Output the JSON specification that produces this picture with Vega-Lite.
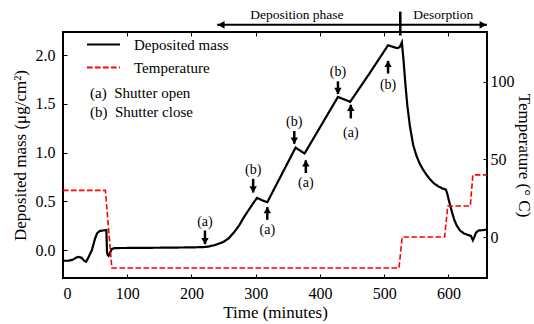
{
  "$schema": "https://vega.github.io/schema/vega-lite/v6.json",
  "width": 424,
  "height": 246,
  "autosize": {"type": "none"},
  "padding": {"left": 63, "top": 32, "right": 47, "bottom": 46},
  "config": {
    "font": "Liberation Serif, Times New Roman, serif",
    "view": {"stroke": "black", "strokeWidth": 2},
    "axis": {
      "grid": false,
      "domain": false,
      "tickColor": "black",
      "tickSize": -4,
      "tickWidth": 1,
      "labelColor": "black",
      "titleColor": "black",
      "labelFont": "Liberation Serif, Times New Roman, serif",
      "titleFont": "Liberation Serif, Times New Roman, serif",
      "labelFontSize": 16,
      "titleFontSize": 17,
      "titleFontWeight": "normal"
    },
    "legend": {
      "orient": "none",
      "legendX": 33,
      "legendY": 5,
      "padding": 0,
      "symbolStrokeWidth": 2,
      "labelFont": "Liberation Serif, Times New Roman, serif",
      "labelFontSize": 15,
      "labelColor": "black",
      "rowPadding": 7
    },
    "text": {"font": "Liberation Serif, Times New Roman, serif", "color": "black"}
  },
  "datasets": {
    "mass": [
      {"t": 0, "mass": -0.11, "series": "Deposited mass"},
      {"t": 8, "mass": -0.11, "series": "Deposited mass"},
      {"t": 15, "mass": -0.10, "series": "Deposited mass"},
      {"t": 20, "mass": -0.08, "series": "Deposited mass"},
      {"t": 24, "mass": -0.07, "series": "Deposited mass"},
      {"t": 29, "mass": -0.08, "series": "Deposited mass"},
      {"t": 33, "mass": -0.11, "series": "Deposited mass"},
      {"t": 36, "mass": -0.12, "series": "Deposited mass"},
      {"t": 40, "mass": -0.07, "series": "Deposited mass"},
      {"t": 45, "mass": 0.0, "series": "Deposited mass"},
      {"t": 50, "mass": 0.12, "series": "Deposited mass"},
      {"t": 53, "mass": 0.17, "series": "Deposited mass"},
      {"t": 57, "mass": 0.195, "series": "Deposited mass"},
      {"t": 62, "mass": 0.2, "series": "Deposited mass"},
      {"t": 67.5, "mass": 0.205, "series": "Deposited mass"},
      {"t": 68.5, "mass": -0.02, "series": "Deposited mass"},
      {"t": 69.5, "mass": -0.05, "series": "Deposited mass"},
      {"t": 71, "mass": -0.06, "series": "Deposited mass"},
      {"t": 73, "mass": -0.03, "series": "Deposited mass"},
      {"t": 76, "mass": 0.01, "series": "Deposited mass"},
      {"t": 80, "mass": 0.02, "series": "Deposited mass"},
      {"t": 120, "mass": 0.022, "series": "Deposited mass"},
      {"t": 160, "mass": 0.024, "series": "Deposited mass"},
      {"t": 200, "mass": 0.027, "series": "Deposited mass"},
      {"t": 218, "mass": 0.03, "series": "Deposited mass"},
      {"t": 226, "mass": 0.035, "series": "Deposited mass"},
      {"t": 236, "mass": 0.05, "series": "Deposited mass"},
      {"t": 249, "mass": 0.08, "series": "Deposited mass"},
      {"t": 258, "mass": 0.12, "series": "Deposited mass"},
      {"t": 266, "mass": 0.18, "series": "Deposited mass"},
      {"t": 274, "mass": 0.25, "series": "Deposited mass"},
      {"t": 281, "mass": 0.33, "series": "Deposited mass"},
      {"t": 288, "mass": 0.40, "series": "Deposited mass"},
      {"t": 295, "mass": 0.47, "series": "Deposited mass"},
      {"t": 302, "mass": 0.535, "series": "Deposited mass"},
      {"t": 310, "mass": 0.51, "series": "Deposited mass"},
      {"t": 318, "mass": 0.49, "series": "Deposited mass"},
      {"t": 340, "mass": 0.77, "series": "Deposited mass"},
      {"t": 362, "mass": 1.05, "series": "Deposited mass"},
      {"t": 376, "mass": 0.99, "series": "Deposited mass"},
      {"t": 402, "mass": 1.28, "series": "Deposited mass"},
      {"t": 428, "mass": 1.57, "series": "Deposited mass"},
      {"t": 447, "mass": 1.52, "series": "Deposited mass"},
      {"t": 477, "mass": 1.81, "series": "Deposited mass"},
      {"t": 506, "mass": 2.10, "series": "Deposited mass"},
      {"t": 520, "mass": 2.07, "series": "Deposited mass"},
      {"t": 524, "mass": 2.08, "series": "Deposited mass"},
      {"t": 527.5, "mass": 2.13, "series": "Deposited mass"},
      {"t": 530, "mass": 1.95, "series": "Deposited mass"},
      {"t": 533, "mass": 1.70, "series": "Deposited mass"},
      {"t": 536, "mass": 1.48, "series": "Deposited mass"},
      {"t": 540, "mass": 1.27, "series": "Deposited mass"},
      {"t": 545, "mass": 1.08, "series": "Deposited mass"},
      {"t": 550, "mass": 0.97, "series": "Deposited mass"},
      {"t": 555, "mass": 0.89, "series": "Deposited mass"},
      {"t": 560, "mass": 0.83, "series": "Deposited mass"},
      {"t": 566, "mass": 0.77, "series": "Deposited mass"},
      {"t": 572, "mass": 0.72, "series": "Deposited mass"},
      {"t": 578, "mass": 0.68, "series": "Deposited mass"},
      {"t": 585, "mass": 0.65, "series": "Deposited mass"},
      {"t": 591, "mass": 0.63, "series": "Deposited mass"},
      {"t": 596, "mass": 0.62, "series": "Deposited mass"},
      {"t": 598, "mass": 0.58, "series": "Deposited mass"},
      {"t": 601, "mass": 0.50, "series": "Deposited mass"},
      {"t": 605, "mass": 0.40, "series": "Deposited mass"},
      {"t": 609, "mass": 0.31, "series": "Deposited mass"},
      {"t": 613, "mass": 0.25, "series": "Deposited mass"},
      {"t": 618, "mass": 0.20, "series": "Deposited mass"},
      {"t": 624, "mass": 0.17, "series": "Deposited mass"},
      {"t": 630, "mass": 0.155, "series": "Deposited mass"},
      {"t": 635, "mass": 0.145, "series": "Deposited mass"},
      {"t": 638, "mass": 0.10, "series": "Deposited mass"},
      {"t": 640, "mass": 0.13, "series": "Deposited mass"},
      {"t": 643, "mass": 0.18, "series": "Deposited mass"},
      {"t": 647, "mass": 0.20, "series": "Deposited mass"},
      {"t": 655, "mass": 0.205, "series": "Deposited mass"},
      {"t": 660, "mass": 0.21, "series": "Deposited mass"}
    ],
    "temp": [
      {"t": 0, "temp": 30, "series": "Temperature"},
      {"t": 66, "temp": 30, "series": "Temperature"},
      {"t": 76, "temp": -20, "series": "Temperature"},
      {"t": 523, "temp": -20, "series": "Temperature"},
      {"t": 528, "temp": 0, "series": "Temperature"},
      {"t": 594, "temp": 0, "series": "Temperature"},
      {"t": 599, "temp": 20, "series": "Temperature"},
      {"t": 634, "temp": 20, "series": "Temperature"},
      {"t": 638, "temp": 40, "series": "Temperature"},
      {"t": 660, "temp": 40, "series": "Temperature"}
    ],
    "shutter": [
      {"t": 221, "lab": "(a)", "dir": "down", "ylab": 0.29, "ytail": 0.20, "ytip": 0.06},
      {"t": 296, "lab": "(b)", "dir": "down", "ylab": 0.82, "ytail": 0.73, "ytip": 0.59},
      {"t": 318, "lab": "(a)", "dir": "up", "ylab": 0.205, "ytail": 0.31, "ytip": 0.44},
      {"t": 360, "lab": "(b)", "dir": "down", "ylab": 1.31, "ytail": 1.22, "ytip": 1.09},
      {"t": 378, "lab": "(a)", "dir": "up", "ylab": 0.69, "ytail": 0.79, "ytip": 0.92},
      {"t": 428, "lab": "(b)", "dir": "down", "ylab": 1.83, "ytail": 1.73, "ytip": 1.60},
      {"t": 448, "lab": "(a)", "dir": "up", "ylab": 1.20, "ytail": 1.35, "ytip": 1.49},
      {"t": 506, "lab": "(b)", "dir": "up", "ylab": 1.69, "ytail": 1.81, "ytip": 1.94}
    ],
    "key": [
      {"t": 42, "y": 1.61, "text": "(a)\u00a0 Shutter open"},
      {"t": 42, "y": 1.415, "text": "(b)\u00a0 Shutter close"}
    ],
    "phases": [
      {"t": 364, "y": 2.415, "text": "Deposition phase"},
      {"t": 592, "y": 2.415, "text": "Desorption"}
    ],
    "span": [{"t0": 240, "t1": 660, "y": 2.31}],
    "spanEnds": [
      {"t": 240, "y": 2.31, "side": "left"},
      {"t": 660, "y": 2.31, "side": "right"}
    ],
    "divider": [{"t": 525, "y0": 2.20, "y1": 2.445}]
  },
  "layer": [
    {
      "data": {"name": "mass"},
      "mark": {"type": "line", "strokeWidth": 2.2},
      "encoding": {
        "x": {
          "field": "t", "type": "quantitative",
          "scale": {"domain": [0, 660], "nice": false, "zero": false},
          "axis": {"orient": "bottom", "values": [0, 100, 200, 300, 400, 500, 600], "title": "Time (minutes)", "labelPadding": 11, "titlePadding": 3}
        },
        "y": {
          "field": "mass", "type": "quantitative",
          "scale": {"domain": [-0.287, 2.236], "nice": false, "zero": false},
          "axis": {"orient": "left", "values": [0, 0.5, 1, 1.5, 2], "format": ".1f", "title": "Deposited mass (μg/cm²)", "labelPadding": 12, "titlePadding": 6}
        },
        "color": {
          "field": "series", "type": "nominal",
          "scale": {"domain": ["Deposited mass", "Temperature"], "range": ["black", "red"]},
          "legend": {"title": null, "symbolType": "M-3,0H3", "symbolSize": 121, "labelOffset": 23}
        },
        "strokeDash": {
          "field": "series", "type": "nominal",
          "scale": {"domain": ["Deposited mass", "Temperature"], "range": [[1, 0], [5.5, 2.5]]},
          "legend": {"title": null, "symbolType": "M-3,0H3", "symbolSize": 121, "labelOffset": 23}
        }
      }
    },
    {
      "data": {"name": "temp"},
      "mark": {"type": "line", "strokeWidth": 1.6},
      "encoding": {
        "x": {
          "field": "t", "type": "quantitative",
          "scale": {"domain": [0, 660], "nice": false, "zero": false},
          "axis": {"orient": "top", "values": [100, 200, 300, 400, 500, 600], "labels": false, "title": null}
        },
        "y": {
          "field": "temp", "type": "quantitative",
          "scale": {"domain": [-26.4, 132], "nice": false, "zero": false},
          "axis": {"orient": "right", "values": [0, 50, 100], "title": "Temperature (° C)", "labelPadding": 7, "titlePadding": 0}
        },
        "color": {
          "field": "series", "type": "nominal",
          "scale": {"domain": ["Deposited mass", "Temperature"], "range": ["black", "red"]},
          "legend": {"title": null, "symbolType": "M-3,0H3", "symbolSize": 121, "labelOffset": 23}
        },
        "strokeDash": {
          "field": "series", "type": "nominal",
          "scale": {"domain": ["Deposited mass", "Temperature"], "range": [[1, 0], [5.5, 2.5]]},
          "legend": {"title": null, "symbolType": "M-3,0H3", "symbolSize": 121, "labelOffset": 23}
        }
      }
    },
    {
      "data": {"name": "shutter"},
      "mark": {"type": "rule", "strokeWidth": 2.5, "color": "black"},
      "encoding": {
        "x": {"field": "t", "type": "quantitative", "scale": {"domain": [0, 660], "nice": false, "zero": false}, "axis": null},
        "y": {"field": "ytail", "type": "quantitative", "scale": {"domain": [-0.287, 2.236], "nice": false, "zero": false}, "axis": null},
        "y2": {"field": "ytip"}
      }
    },
    {
      "data": {"name": "shutter"},
      "transform": [{"filter": "datum.dir === 'down'"}],
      "mark": {"type": "point", "shape": "triangle-down", "filled": true, "color": "black", "size": 55, "opacity": 1, "yOffset": -3},
      "encoding": {
        "x": {"field": "t", "type": "quantitative", "scale": {"domain": [0, 660], "nice": false, "zero": false}, "axis": null},
        "y": {"field": "ytip", "type": "quantitative", "scale": {"domain": [-0.287, 2.236], "nice": false, "zero": false}, "axis": null}
      }
    },
    {
      "data": {"name": "shutter"},
      "transform": [{"filter": "datum.dir === 'up'"}],
      "mark": {"type": "point", "shape": "triangle-up", "filled": true, "color": "black", "size": 55, "opacity": 1, "yOffset": 3},
      "encoding": {
        "x": {"field": "t", "type": "quantitative", "scale": {"domain": [0, 660], "nice": false, "zero": false}, "axis": null},
        "y": {"field": "ytip", "type": "quantitative", "scale": {"domain": [-0.287, 2.236], "nice": false, "zero": false}, "axis": null}
      }
    },
    {
      "data": {"name": "shutter"},
      "mark": {"type": "text", "fontSize": 14, "baseline": "middle", "align": "center"},
      "encoding": {
        "x": {"field": "t", "type": "quantitative", "scale": {"domain": [0, 660], "nice": false, "zero": false}, "axis": null},
        "y": {"field": "ylab", "type": "quantitative", "scale": {"domain": [-0.287, 2.236], "nice": false, "zero": false}, "axis": null},
        "text": {"field": "lab"}
      }
    },
    {
      "data": {"name": "key"},
      "mark": {"type": "text", "fontSize": 15, "baseline": "middle", "align": "left"},
      "encoding": {
        "x": {"field": "t", "type": "quantitative", "scale": {"domain": [0, 660], "nice": false, "zero": false}, "axis": null},
        "y": {"field": "y", "type": "quantitative", "scale": {"domain": [-0.287, 2.236], "nice": false, "zero": false}, "axis": null},
        "text": {"field": "text"}
      }
    },
    {
      "data": {"name": "phases"},
      "mark": {"type": "text", "fontSize": 13.5, "baseline": "middle", "align": "center"},
      "encoding": {
        "x": {"field": "t", "type": "quantitative", "scale": {"domain": [0, 660], "nice": false, "zero": false}, "axis": null},
        "y": {"field": "y", "type": "quantitative", "scale": {"domain": [-0.287, 2.236], "nice": false, "zero": false}, "axis": null},
        "text": {"field": "text"}
      }
    },
    {
      "data": {"name": "span"},
      "mark": {"type": "rule", "strokeWidth": 2, "color": "black"},
      "encoding": {
        "x": {"field": "t0", "type": "quantitative", "scale": {"domain": [0, 660], "nice": false, "zero": false}, "axis": null},
        "x2": {"field": "t1"},
        "y": {"field": "y", "type": "quantitative", "scale": {"domain": [-0.287, 2.236], "nice": false, "zero": false}, "axis": null}
      }
    },
    {
      "data": {"name": "spanEnds"},
      "transform": [{"filter": "datum.side === 'left'"}],
      "mark": {"type": "point", "shape": "triangle-left", "filled": true, "color": "black", "size": 60, "opacity": 1, "xOffset": 4},
      "encoding": {
        "x": {"field": "t", "type": "quantitative", "scale": {"domain": [0, 660], "nice": false, "zero": false}, "axis": null},
        "y": {"field": "y", "type": "quantitative", "scale": {"domain": [-0.287, 2.236], "nice": false, "zero": false}, "axis": null}
      }
    },
    {
      "data": {"name": "spanEnds"},
      "transform": [{"filter": "datum.side === 'right'"}],
      "mark": {"type": "point", "shape": "triangle-right", "filled": true, "color": "black", "size": 60, "opacity": 1, "xOffset": -4},
      "encoding": {
        "x": {"field": "t", "type": "quantitative", "scale": {"domain": [0, 660], "nice": false, "zero": false}, "axis": null},
        "y": {"field": "y", "type": "quantitative", "scale": {"domain": [-0.287, 2.236], "nice": false, "zero": false}, "axis": null}
      }
    },
    {
      "data": {"name": "divider"},
      "mark": {"type": "rule", "strokeWidth": 2.5, "color": "black"},
      "encoding": {
        "x": {"field": "t", "type": "quantitative", "scale": {"domain": [0, 660], "nice": false, "zero": false}, "axis": null},
        "y": {"field": "y0", "type": "quantitative", "scale": {"domain": [-0.287, 2.236], "nice": false, "zero": false}, "axis": null},
        "y2": {"field": "y1"}
      }
    }
  ],
  "resolve": {
    "scale": {"y": "independent"},
    "axis": {"x": "independent", "y": "independent"}
  }
}
